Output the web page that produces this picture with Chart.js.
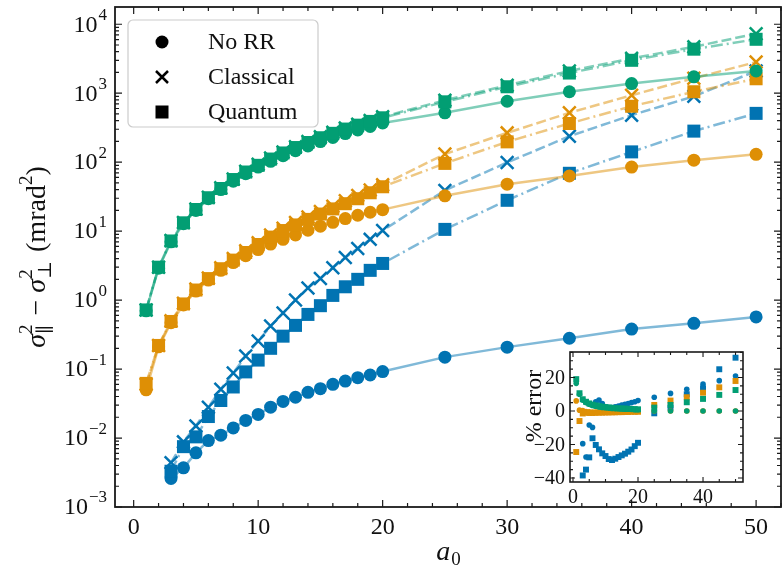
<!DOCTYPE html>
<html>
<head>
<meta charset="utf-8">
<script src="https://cdn.jsdelivr.net/npm/chart.js@4.4.1/dist/chart.umd.min.js"></script>
<style>
  body { margin: 0; background: #fff; }
  #wrap { position: relative; width: 783px; height: 571px; }
  #main { position: absolute; left: 0; top: 0; }
  #inset { position: absolute; left: 505px; top: 340px; }
</style>
</head>
<body>
<div id="wrap">
  <canvas id="main" width="783" height="571"></canvas>
  <canvas id="inset" width="250" height="175"></canvas>
</div>
<script>
// a0 values
const a0 = [1, 2, 3, 4, 5, 6, 7, 8, 9, 10, 11, 12, 13, 14, 15, 16, 17, 18, 19, 20, 25, 30, 35, 40, 45, 50];

// sigma_par^2 - sigma_perp^2 (mrad^2)
const noRRBlue = [null, null, 0.0026, 0.0037, 0.0061, 0.0092, 0.011, 0.014, 0.018, 0.022, 0.028, 0.034, 0.039, 0.046, 0.052, 0.060, 0.067, 0.075, 0.082, 0.092, 0.149, 0.208, 0.28, 0.38, 0.46, 0.57];
const classicalBlue = [null, null, 0.0044, 0.0088, 0.015, 0.028, 0.051, 0.088, 0.155, 0.255, 0.42, 0.65, 1.0, 1.5, 2.05, 2.95, 4.15, 5.6, 7.6, 10.2, 39, 99, 238, 480, 900, 2100];
const quantumBlue = [null, null, 0.0033, 0.0075, 0.0104, 0.0205, 0.035, 0.055, 0.091, 0.135, 0.2, 0.3, 0.43, 0.62, 0.83, 1.17, 1.56, 2.0, 2.7, 3.4, 10.6, 28, 69, 141, 282, 510];

const noRROrange = [0.05, 0.21, 0.47, 0.85, 1.35, 1.95, 2.7, 3.5, 4.4, 5.4, 6.5, 7.6, 8.8, 10.3, 11.8, 13.4, 15.2, 17, 18.8, 20.5, 32.5, 48, 63, 85, 107, 130];
const classicalOrange = [0.06, 0.22, 0.5, 0.9, 1.45, 2.1, 2.95, 4.0, 5.2, 6.8, 8.8, 11, 13.3, 16, 19.2, 23, 27.5, 33, 39.5, 47, 131, 266, 520, 935, 1650, 2830];
const quantumOrange = [0.062, 0.22, 0.49, 0.88, 1.4, 2.05, 2.85, 3.8, 4.9, 6.4, 8.2, 10.2, 12.3, 14.8, 17.7, 21, 25, 29.5, 36, 44, 96, 197, 364, 647, 1050, 1620];

const noRRGreen = [0.7, 2.9, 7.0, 12.8, 20, 29.5, 40, 53, 68, 85, 103, 124, 147, 172, 199, 228, 260, 293, 330, 370, 520, 765, 1050, 1380, 1730, 2100];
const classicalGreen = [0.72, 3.0, 7.3, 13.3, 21, 31, 42.5, 57, 74, 93, 115, 140, 168, 199, 233, 271, 312, 356, 403, 455, 790, 1300, 2100, 3200, 4700, 7300];
const quantumGreen = [0.72, 3.0, 7.2, 13.2, 20.6, 30.5, 41.5, 56, 72, 90, 111, 136, 163, 193, 226, 262, 302, 344, 390, 440, 750, 1240, 1960, 3000, 4350, 6050];

// inset: % error
const errBlueCirc = [null, null, -19.5, -27.5, -8.4, -9.8, 5.5, 6.5, 4.5, 2.5, 2, 2, 2.5, 3, 3.5, 4, 4.5, 5, 5.5, 6.2, 8.2, 10.5, 12.9, 16, 18.1, 20.9];
const errBlueSq = [null, null, -38.5, -35, -27.7, -16.3, -20.3, -22.9, -25.3, -26.9, -28.7, -29.3, -28.5, -27.5, -26.5, -25.5, -24.3, -23, -21, -19, -1.4, 2, 10, 13.5, 24.9, 31.8];
const errOrangeCirc = [6, 0.5, 0.3, -0.3, -0.5, -0.6, -0.6, -0.6, -0.5, -0.5, -0.5, -0.4, -0.4, -0.4, -0.3, -0.3, -0.3, -0.2, -0.2, -0.2, 0, 0, 0, 0, 0, 0];
const errOrangeSq = [-24.5, -6, -1.5, -1, -1.2, -1.2, -1.1, -1, -1, -0.9, -0.9, -0.8, -0.8, -0.7, -0.7, -0.6, -0.6, -0.5, -0.5, -0.5, 3.6, 6.2, 8.2, 10.9, 14.1, 17.9];
const errGreenCirc = [16.5, 10, 6.5, 5, 4, 3.3, 2.8, 2.4, 2.1, 1.9, 1.7, 1.5, 1.4, 1.3, 1.2, 1.1, 1, 0.9, 0.8, 0.7, 0, 0, 0, 0, 0, 0];
const errGreenSq = [19, 10.6, 7, 5.5, 4.5, 3.8, 3.3, 2.9, 2.6, 2.3, 2.1, 1.9, 1.7, 1.6, 1.5, 1.4, 1.3, 1.2, 1.1, 1.0, 2, 3.6, 5.2, 7.2, 9.6, 12.5];

const legendLabels = ['No RR', 'Classical', 'Quantum'];
const yTickExp = [-3, -2, -1, 0, 1, 2, 3, 4];
const xTickLabels = [0, 10, 20, 30, 40, 50];
const insetYTicks = [-40, -20, 0, 20];
const insetXTicks = [0, 20, 40];

const BLUE = '#0173b2', ORANGE = '#de8f05', GREEN = '#029e73';
const SERIF = '"Liberation Serif", "DejaVu Serif", serif';

function fade(hex, a) {
  const n = parseInt(hex.slice(1), 16);
  return `rgba(${n >> 16}, ${(n >> 8) & 255}, ${n & 255}, ${a})`;
}

function pts(vals) {
  return a0.map((x, i) => ({ x: x, y: vals[i] })).filter(p => p.y !== null);
}

function line(label, vals, color, kind) {
  const ds = {
    label: label,
    data: pts(vals),
    borderColor: fade(color, 0.5),
    borderWidth: 2.5,
    pointBackgroundColor: color,
    pointBorderColor: color,
    pointBorderWidth: 0,
    pointRadius: 6.5,
    pointHoverRadius: 6.5,
    tension: 0
  };
  if (kind === 'x') {
    ds.borderDash = [10, 4];
    ds.pointStyle = 'crossRot';
    ds.pointRadius = 9;
    ds.pointBorderWidth = 2.5;
  } else if (kind === 's') {
    ds.borderDash = [12, 4, 2, 4];
    ds.pointStyle = 'rect';
    ds.pointRadius = 9.2;
  } else {
    ds.pointStyle = 'circle';
  }
  return ds;
}

function dots(vals, color, kind) {
  return {
    data: pts(vals),
    showLine: false,
    pointStyle: kind === 's' ? 'rect' : 'circle',
    pointRadius: kind === 's' ? 4.2 : 2.8,
    pointBackgroundColor: color,
    pointBorderWidth: 0
  };
}

// later datasets on top
function stack(list) {
  list.forEach((d, i) => { d.order = list.length - i; });
  return list;
}

// inward ticks on all four sides + frame + labels
const frame = {
  id: 'frame',
  beforeDatasetsDraw(chart, args, o) {
    if (!o.bg) return;
    const a = chart.chartArea;
    chart.ctx.fillStyle = o.bg;
    chart.ctx.fillRect(a.left, a.top, a.right - a.left, a.bottom - a.top);
  },
  afterDraw(chart, args, o) {
    const { ctx, chartArea: a } = chart;
    const xs = chart.scales.x, ys = chart.scales.y;
    ctx.save();
    ctx.strokeStyle = '#1a1a1a';
    ctx.lineWidth = o.tickWidth;
    ctx.beginPath();
    o.xTicks.forEach(t => {
      const p = xs.getPixelForValue(t.v);
      if (p < a.left || p > a.right) return;
      ctx.moveTo(p, a.bottom); ctx.lineTo(p, a.bottom - t.len);
      ctx.moveTo(p, a.top); ctx.lineTo(p, a.top + t.len);
    });
    o.yTicks.forEach(t => {
      const p = ys.getPixelForValue(t.v);
      if (p < a.top - 0.5 || p > a.bottom + 0.5) return;
      ctx.moveTo(a.left, p); ctx.lineTo(a.left + t.len, p);
      ctx.moveTo(a.right, p); ctx.lineTo(a.right - t.len, p);
    });
    ctx.stroke();
    ctx.lineWidth = o.frameWidth;
    ctx.strokeRect(a.left, a.top, a.right - a.left, a.bottom - a.top);
    ctx.restore();
    if (o.labels) o.labels(chart);
  }
};

function majorMinor(majors, minors, bigLen, smallLen) {
  return majors.map(v => ({ v: v, len: bigLen })).concat(minors.map(v => ({ v: v, len: smallLen })));
}

// main tick lists
const xMinor = [];
for (let v = 2; v <= 52; v += 2) if (v % 10) xMinor.push(v);
const yMinor = [];
yTickExp.forEach(e => { for (let k = 2; k <= 9; k++) yMinor.push(k * Math.pow(10, e)); });

function drawMainLabels(chart) {
  const { ctx, chartArea: a } = chart;
  const xs = chart.scales.x, ys = chart.scales.y;
  ctx.save();
  ctx.fillStyle = '#111';
  // x tick labels
  ctx.font = '24px ' + SERIF;
  ctx.textAlign = 'center';
  ctx.textBaseline = 'middle';
  xTickLabels.forEach(v => ctx.fillText(String(v), xs.getPixelForValue(v), a.bottom + 21));
  // y tick labels 10^e
  yTickExp.forEach(e => {
    const py = ys.getPixelForValue(Math.pow(10, e));
    const sup = e < 0 ? '\u2212' + (-e) : String(e);
    ctx.font = '17px ' + SERIF;
    const ws = ctx.measureText(sup).width;
    const right = a.left - 8;
    ctx.textAlign = 'left';
    ctx.fillText(sup, right - ws, py - 9);
    ctx.font = '24px ' + SERIF;
    ctx.textAlign = 'right';
    ctx.fillText('10', right - ws - 1, py + 1);
  });
  // x axis title a_0
  ctx.textAlign = 'left';
  ctx.font = 'italic 28px ' + SERIF;
  const wa = ctx.measureText('a').width;
  ctx.font = '19px ' + SERIF;
  const w0 = ctx.measureText('0').width;
  const cx = (a.left + a.right) / 2 - (wa + w0) / 2;
  ctx.font = 'italic 28px ' + SERIF;
  ctx.fillText('a', cx, 553);
  ctx.font = '19px ' + SERIF;
  ctx.fillText('0', cx + wa + 1, 560);
  // y axis title
  drawYTitle(ctx, 38, (a.top + a.bottom) / 2);
  // legend
  drawLegend(ctx);
  ctx.restore();
}

function drawYTitle(ctx, cx, cy) {
  const big = '28px ' + SERIF, ital = 'italic 28px ' + SERIF, small = '19px ' + SERIF;
  const parts = [
    { t: '\u03c3', f: ital },
    { t: '2', f: small, dy: -11, sub: '\u2225', subdy: 8 },
    { t: ' \u2212 ', f: big },
    { t: '\u03c3', f: ital },
    { t: '2', f: small, dy: -11, sub: '\u22a5', subdy: 8 },
    { t: ' (mrad', f: big },
    { t: '2', f: small, dy: -11 },
    { t: ')', f: big }
  ];
  ctx.save();
  ctx.translate(cx, cy);
  ctx.rotate(-Math.PI / 2);
  ctx.textBaseline = 'middle';
  ctx.textAlign = 'left';
  let total = 0;
  parts.forEach(p => {
    ctx.font = p.f;
    let w = ctx.measureText(p.t).width;
    if (p.sub) w = Math.max(w, ctx.measureText(p.sub).width);
    p.w = w + (p.sub ? 2 : 0);
    total += p.w;
  });
  let x = -total / 2;
  parts.forEach(p => {
    ctx.font = p.f;
    ctx.fillText(p.t, x, p.dy || 0);
    if (p.sub) ctx.fillText(p.sub, x, p.subdy);
    x += p.w;
  });
  ctx.restore();
}

function drawLegend(ctx) {
  const x0 = 128, y0 = 20, w = 190, h = 107, r = 5;
  ctx.save();
  ctx.beginPath();
  ctx.moveTo(x0 + r, y0);
  ctx.arcTo(x0 + w, y0, x0 + w, y0 + h, r);
  ctx.arcTo(x0 + w, y0 + h, x0, y0 + h, r);
  ctx.arcTo(x0, y0 + h, x0, y0, r);
  ctx.arcTo(x0, y0, x0 + w, y0, r);
  ctx.closePath();
  ctx.fillStyle = 'rgba(255,255,255,0.85)';
  ctx.fill();
  ctx.strokeStyle = '#cccccc';
  ctx.lineWidth = 1.2;
  ctx.stroke();
  const mx = 162, rows = [42, 77, 112];
  ctx.fillStyle = '#000';
  ctx.strokeStyle = '#000';
  // circle
  ctx.beginPath(); ctx.arc(mx, rows[0], 6.5, 0, Math.PI * 2); ctx.fill();
  // x
  ctx.lineWidth = 2.5;
  ctx.beginPath();
  ctx.moveTo(mx - 6, rows[1] - 6); ctx.lineTo(mx + 6, rows[1] + 6);
  ctx.moveTo(mx + 6, rows[1] - 6); ctx.lineTo(mx - 6, rows[1] + 6);
  ctx.stroke();
  // square
  ctx.fillRect(mx - 6.5, rows[2] - 6.5, 13, 13);
  ctx.font = '24px ' + SERIF;
  ctx.textAlign = 'left';
  ctx.textBaseline = 'middle';
  ctx.fillStyle = '#111';
  legendLabels.forEach((s, i) => ctx.fillText(s, 208, rows[i] + 1));
  ctx.restore();
}

const mainDatasets = stack([
  line('No RR', noRRBlue, BLUE, 'o'),
  line('Classical', classicalBlue, BLUE, 'x'),
  line('Quantum', quantumBlue, BLUE, 's'),
  line('No RR', noRROrange, ORANGE, 'o'),
  line('Classical', classicalOrange, ORANGE, 'x'),
  line('Quantum', quantumOrange, ORANGE, 's'),
  line('No RR', noRRGreen, GREEN, 'o'),
  line('Classical', classicalGreen, GREEN, 'x'),
  line('Quantum', quantumGreen, GREEN, 's')
]);

new Chart(document.getElementById('main').getContext('2d'), {
  type: 'line',
  data: { datasets: mainDatasets },
  options: {
    responsive: false,
    animation: false,
    events: [],
    layout: { autoPadding: false, padding: { left: 0, right: 2, top: 7, bottom: 0 } },
    scales: {
      x: {
        type: 'linear', min: -1.5, max: 52,
        grid: { display: false }, border: { display: false },
        ticks: { display: false },
        afterFit: s => { s.height = 64; }
      },
      y: {
        type: 'logarithmic', min: 1e-3, max: Math.pow(10, 4.25),
        grid: { display: false }, border: { display: false },
        ticks: { display: false },
        afterFit: s => { s.width = 115; }
      }
    },
    plugins: {
      legend: { display: false },
      tooltip: { enabled: false },
      frame: {
        tickWidth: 1.2, frameWidth: 1.8,
        xTicks: majorMinor(xTickLabels, xMinor, 7, 4),
        yTicks: majorMinor(yTickExp.map(e => Math.pow(10, e)), yMinor, 7, 4),
        labels: drawMainLabels
      }
    }
  },
  plugins: [frame]
});

// inset
const insetYMinor = [];
for (let v = -40; v <= 35; v += 5) if (v % 20) insetYMinor.push(v);
const insetXMinor = [5, 10, 15, 25, 30, 35, 45, 50];

function drawInsetLabels(chart) {
  const { ctx, chartArea: a } = chart;
  const xs = chart.scales.x, ys = chart.scales.y;
  ctx.save();
  ctx.fillStyle = '#111';
  ctx.font = '20px ' + SERIF;
  ctx.textBaseline = 'middle';
  ctx.textAlign = 'right';
  insetYTicks.forEach(v => ctx.fillText(v < 0 ? '\u2212' + (-v) : String(v), a.left - 5, ys.getPixelForValue(v) + 1));
  ctx.textAlign = 'center';
  insetXTicks.forEach(v => ctx.fillText(String(v), xs.getPixelForValue(v), a.bottom + 16));
  ctx.translate(a.left - 35, (a.top + a.bottom) / 2 - 11);
  ctx.rotate(-Math.PI / 2);
  ctx.font = '24px ' + SERIF;
  ctx.fillText('% error', 0, 0);
  ctx.restore();
}

const insetDatasets = stack([
  dots(errBlueCirc, BLUE, 'o'),
  dots(errBlueSq, BLUE, 's'),
  dots(errOrangeCirc, ORANGE, 'o'),
  dots(errOrangeSq, ORANGE, 's'),
  dots(errGreenCirc, GREEN, 'o'),
  dots(errGreenSq, GREEN, 's')
]);

new Chart(document.getElementById('inset').getContext('2d'), {
  type: 'scatter',
  data: { datasets: insetDatasets },
  options: {
    responsive: false,
    animation: false,
    events: [],
    layout: { autoPadding: false, padding: { left: 0, right: 12, top: 12, bottom: 0 } },
    scales: {
      x: {
        type: 'linear', min: -0.92, max: 52.3,
        grid: { display: false }, border: { display: false },
        ticks: { display: false },
        afterFit: s => { s.height = 33; }
      },
      y: {
        type: 'linear', min: -42.4, max: 35.2,
        grid: { display: false }, border: { display: false },
        ticks: { display: false },
        afterFit: s => { s.width = 65; }
      }
    },
    plugins: {
      legend: { display: false },
      tooltip: { enabled: false },
      frame: {
        bg: '#ffffff',
        tickWidth: 1.1, frameWidth: 1.6,
        xTicks: majorMinor(insetXTicks, insetXMinor, 5, 3),
        yTicks: majorMinor(insetYTicks, insetYMinor, 5, 3),
        labels: drawInsetLabels
      }
    }
  },
  plugins: [frame]
});
</script>
</body>
</html>
